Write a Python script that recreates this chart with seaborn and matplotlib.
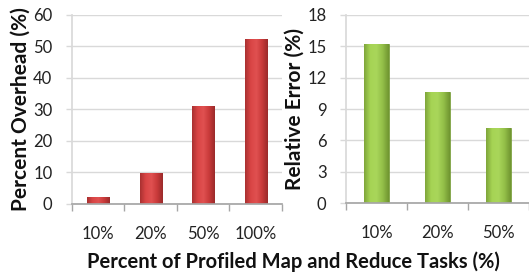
import numpy as np
import pandas as pd
import matplotlib
matplotlib.use("Agg")
import matplotlib.pyplot as plt
import seaborn as sns
from matplotlib.colors import LinearSegmentedColormap

# data
overhead_cats = ["10%", "20%", "50%", "100%"]
overhead_vals = [2.3, 9.8, 31.0, 52.3]
error_cats = ["10%", "20%", "50%"]
error_vals = [15.2, 10.6, 7.2]

sns.set_theme(style="white")
plt.rcParams['font.family'] = ['Lato', 'DejaVu Sans']

fig = plt.figure(figsize=(5.29, 2.76), dpi=100)
ax1 = fig.add_axes([0.136, 0.261, 0.397, 0.685])
ax2 = fig.add_axes([0.654, 0.264, 0.346, 0.682])

def style_ax(ax, n, yticks, ylabel):
    ax.set_xlim(-0.5, n - 0.5)
    ax.set_ylim(yticks[0], yticks[-1])
    ax.set_yticks(yticks)
    ax.yaxis.grid(True, color="#d9d9d9", lw=1)
    ax.set_axisbelow(True)
    for s in ["top", "right"]:
        ax.spines[s].set_visible(False)
    ax.spines["left"].set_color("#d9d9d9")
    ax.spines["bottom"].set_color("#a6a6a6")
    ax.set_xticks(np.arange(n))
    ax.set_xticks(np.arange(n + 1) - 0.5, minor=True)
    ax.tick_params(axis="x", which="major", length=0, pad=16, labelsize=12, labelcolor="#222222")
    ax.tick_params(axis="x", which="minor", length=5, width=1, color="#a6a6a6", bottom=True)
    ax.tick_params(axis="y", length=4, width=1, color="#d9d9d9", left=True, pad=10,
                   labelsize=12, labelcolor="#222222")
    ax.set_xlabel("")
    ax.set_ylabel(ylabel, fontsize=15, fontweight="bold", labelpad=2, color="#111111")

def shade(ax, cmap):
    grad = np.linspace(0, 1, 256).reshape(1, -1)
    for p in list(ax.patches):
        x0, y0 = p.get_x(), p.get_y()
        w, h = p.get_width(), p.get_height()
        im = ax.imshow(grad, extent=[x0, x0 + w, y0, y0 + h], aspect="auto",
                       cmap=cmap, zorder=p.get_zorder() + 0.1, origin="lower")
        im.set_clip_path(p)
    ax.set_aspect("auto")

red_cmap = LinearSegmentedColormap.from_list("r", ["#a83030", "#d94545", "#e05050", "#c83a3a", "#9a2a2a"])
green_cmap = LinearSegmentedColormap.from_list("g", ["#7ea53a", "#a6d454", "#a9d65a", "#93bf48", "#6f9430"])

df1 = pd.DataFrame({"cat": overhead_cats, "val": overhead_vals})
sns.barplot(data=df1, x="cat", y="val", ax=ax1, color="#d94545", width=0.42,
            saturation=1, edgecolor="#8a2525", linewidth=0.5)
shade(ax1, red_cmap)
style_ax(ax1, len(overhead_cats), [0, 10, 20, 30, 40, 50, 60], "Percent Overhead (%)")

df2 = pd.DataFrame({"cat": error_cats, "val": error_vals})
sns.barplot(data=df2, x="cat", y="val", ax=ax2, color="#a6d454", width=0.4,
            saturation=1, edgecolor="#6a8f2d", linewidth=0.5)
shade(ax2, green_cmap)
style_ax(ax2, len(error_cats), [0, 3, 6, 9, 12, 15, 18], "Relative Error (%)")

fig.text(0.555, 0.029, "Percent of Profiled Map and Reduce Tasks (%)",
         ha="center", va="baseline", fontsize=14.5, fontweight="bold", color="#111111")

fig.savefig("out.png", dpi=100)
